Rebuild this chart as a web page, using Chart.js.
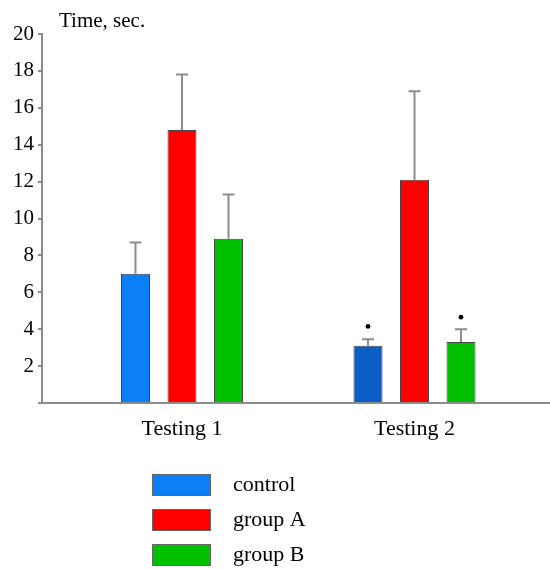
<!DOCTYPE html>
<html>
<head>
<meta charset="utf-8">
<script src="https://cdn.jsdelivr.net/npm/chart.js@4.4.1/dist/chart.umd.min.js"></script>
<style>
  html, body { margin: 0; padding: 0; background: #fff; }
  #wrap { width: 550px; height: 570px; position: relative; }
</style>
</head>
<body>
<div id="wrap"><canvas id="chart"></canvas></div>
<script>
// ---- data ----
const categories = ['Testing 1', 'Testing 2'];
const seriesNames = ['control', 'group A', 'group B'];

const controlMeans = [7.0, 3.1];
const groupAMeans  = [14.8, 12.1];
const groupBMeans  = [8.9, 3.3];

const controlErrTop = [8.7, 3.45];
const groupAErrTop  = [17.8, 16.9];
const groupBErrTop  = [11.3, 4.0];

// significance dots (null = none)
const controlMarks = [null, 4.15];
const groupAMarks  = [null, null];
const groupBMarks  = [null, 4.65];

const yTicks = [2, 4, 6, 8, 10, 12, 14, 16, 18, 20];

const FONT = 'Liberation Serif, "Times New Roman", serif';
const AXIS_GRAY = '#8c8c8c';

const controlColors = ['#0b80f6', '#0a5ec6'];
const legendColors = ['#0b80f6', '#ff0000', '#00c000'];

const toPoints = arr => arr.map((v, i) => ({ x: i + 1, y: v }));

const datasets = [
  { label: seriesNames[0], data: toPoints(controlMeans), backgroundColor: controlColors, errTop: controlErrTop, marks: controlMarks },
  { label: seriesNames[1], data: toPoints(groupAMeans),  backgroundColor: '#ff0000',     errTop: groupAErrTop,  marks: groupAMarks },
  { label: seriesNames[2], data: toPoints(groupBMeans),  backgroundColor: '#00c000',     errTop: groupBErrTop,  marks: groupBMarks },
].map(d => ({ ...d, borderColor: '#444', borderWidth: 1, categoryPercentage: 0.6, barPercentage: 0.624 }));

// error bars + dots + axis title + legend
const extras = {
  id: 'extras',
  afterDatasetsDraw(chart) {
    const { ctx, scales: { y } } = chart;
    ctx.save();
    chart.data.datasets.forEach((ds, di) => {
      const meta = chart.getDatasetMeta(di);
      meta.data.forEach((bar, i) => {
        const yTop = y.getPixelForValue(ds.errTop[i]);
        ctx.strokeStyle = AXIS_GRAY;
        ctx.lineWidth = 2;
        ctx.beginPath();
        ctx.moveTo(bar.x, bar.y);
        ctx.lineTo(bar.x, yTop);
        ctx.moveTo(bar.x - 6, yTop);
        ctx.lineTo(bar.x + 6, yTop);
        ctx.stroke();
        if (ds.marks[i] != null) {
          ctx.fillStyle = '#000';
          ctx.beginPath();
          ctx.arc(bar.x, y.getPixelForValue(ds.marks[i]), 2.4, 0, Math.PI * 2);
          ctx.fill();
        }
      });
    });
    ctx.restore();
  },
  afterDraw(chart) {
    const { ctx } = chart;
    ctx.save();
    ctx.fillStyle = '#000';
    ctx.font = '21px ' + FONT;
    ctx.textBaseline = 'alphabetic';
    ctx.fillText('Time, sec.', 59, 27);

    // legend
    seriesNames.forEach((name, i) => {
      const top = 474 + i * 35;
      ctx.fillStyle = legendColors[i];
      ctx.fillRect(152, top, 59, 22);
      ctx.strokeStyle = '#666';
      ctx.lineWidth = 1;
      ctx.strokeRect(152.5, top + 0.5, 58, 21);
      ctx.fillStyle = '#000';
      ctx.font = '22px ' + FONT;
      ctx.textBaseline = 'middle';
      ctx.fillText(name, 233, top + 11);
    });
    ctx.restore();
  }
};

new Chart(document.getElementById('chart'), {
  type: 'bar',
  data: { datasets },
  options: {
    responsive: true,
    maintainAspectRatio: false,
    animation: false,
    layout: { padding: { top: 34, right: 0, bottom: 0, left: 0 } },
    plugins: { legend: { display: false }, tooltip: { enabled: false } },
    scales: {
      x: {
        type: 'linear',
        offset: false,
        min: 0.3978,
        max: 2.5828,
        afterBuildTicks: s => { s.ticks = categories.map((c, i) => ({ value: i + 1 })); },
        afterFit: s => { s.height = 167; },
        grid: { display: false, drawTicks: false },
        border: { color: AXIS_GRAY, width: 2 },
        ticks: {
          color: '#000', font: { family: FONT, size: 22 }, padding: 13,
          callback: v => categories[v - 1] || '',
        },
      },
      y: {
        min: 0,
        max: 20,
        afterBuildTicks: s => { s.ticks = [0, ...yTicks].map(v => ({ value: v })); },
        afterFit: s => { s.width = 42; },
        grid: { drawOnChartArea: false, drawTicks: true, tickLength: 4, color: AXIS_GRAY, lineWidth: 2 },
        border: { color: AXIS_GRAY, width: 2 },
        ticks: {
          color: '#000', font: { family: FONT, size: 21 }, padding: 4,
          callback: v => (v === 0 ? '' : v),
        },
      },
    },
  },
  plugins: [extras],
});
</script>
</body>
</html>
